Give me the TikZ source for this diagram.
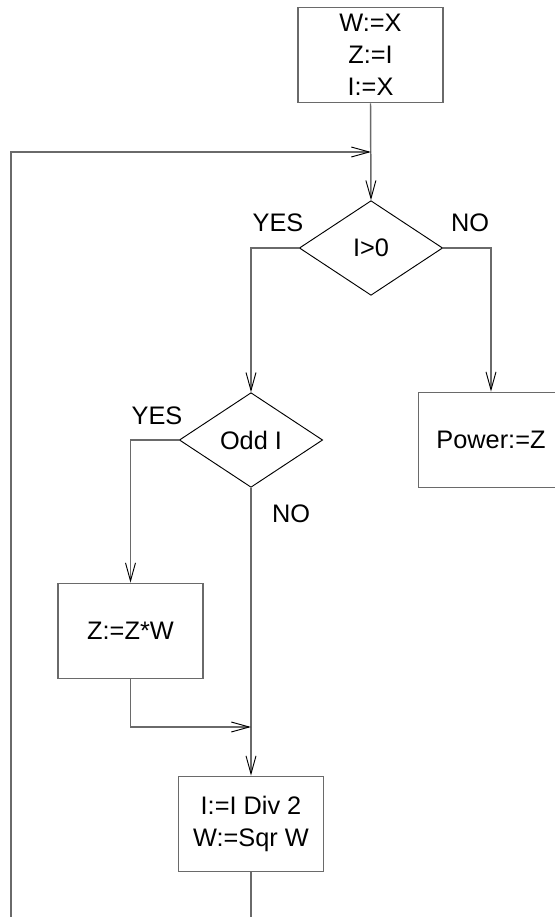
\documentclass[tikz,border=0pt]{standalone}
\usepackage{fontspec}
\setmainfont{Liberation Sans}
\usetikzlibrary{shapes.geometric,positioning,calc,arrows.meta}
\definecolor{linegray}{HTML}{6A6A6A}
\tikzset{LINE/.style={draw=linegray, line width=1.1pt}}
\tikzset{ARROW/.style={LINE, -{Straight Barb[length=13.5pt, width=7.5pt, line width=0.7pt, black]}}}
\tikzset{BOX/.style={rectangle, draw=linegray, line width=1.1pt, minimum width=108.5pt, minimum height=71.5pt, align=center, font=\fontsize{19}{24}\selectfont}}
\tikzset{TEST/.style={diamond, draw=black, line width=0.7pt, inner sep=0pt, minimum width=107.5pt, minimum height=71pt, font=\fontsize{19}{24}\selectfont}}
\tikzset{LABEL/.style={font=\fontsize{19}{24}\selectfont}}

\begin{document}
\begin{tikzpicture}[x=0.75pt, y=-0.75pt]
    \useasboundingbox (0,0) rectangle (554,917);

    \node[BOX] (n_init) at (370.5,55) {W:=X \\ Z:=I \\ I:=X};
    \node[TEST] (n_test_i) at (371,248) {I>0};
    \node[TEST] (n_test_odd) at (251,440) {Odd I};
    \node[BOX] (n_power) at (491,440) {Power:=Z};
    \node[BOX] (n_mult) at (130.5,631) {Z:=Z*W};
    \node[BOX] (n_update) at (251,824) {I:=I Div 2 \\ W:=Sqr W};

    \node[LABEL] (l_yes_i) at (278,223) {YES};
    \node[LABEL] (l_no_i) at (470,223) {NO};
    \node[LABEL] (l_yes_odd) at (157,416) {YES};
    \node[LABEL] (l_no_odd) at (291,514) {NO};

    \coordinate (loop_merge) at (371,152);
    \coordinate (loop_top) at (11,152);
    \coordinate (loop_bottom) at (11,917);
    \coordinate (mult_merge) at (251,727);
    \coordinate (update_out) at (251,917);

    \draw[ARROW] (n_init.south) -- (n_test_i.north);
    \draw[ARROW] (loop_bottom) -- (loop_top) -- (loop_merge);
    \draw[ARROW] (n_test_i.west) -| (n_test_odd.north);
    \draw[ARROW] (n_test_i.east) -| (n_power.north);
    \draw[ARROW] (n_test_odd.west) -| (n_mult.north);
    \draw[ARROW] (n_test_odd.south) -- (n_update.north);
    \draw[ARROW] (n_mult.south) |- (mult_merge);
    \draw[LINE] (n_update.south) -- (update_out);

\end{tikzpicture}
\end{document}
